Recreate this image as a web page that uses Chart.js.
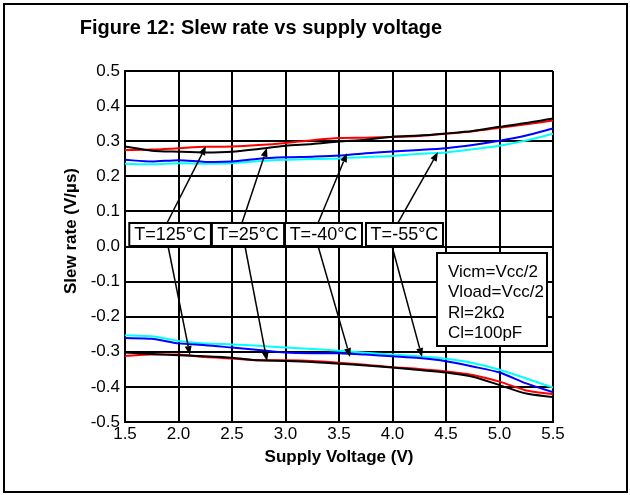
<!DOCTYPE html>
<html><head><meta charset="utf-8">
<script src="https://cdn.jsdelivr.net/npm/chart.js@4/dist/chart.umd.min.js"></script>
<style>html,body{margin:0;padding:0;background:#fff;}canvas{display:block;}</style>
</head><body>
<canvas id="c" width="630" height="495"></canvas>
<script>
// ---- data ----
const voltage = [1.5,1.75,2.0,2.25,2.5,2.75,3.0,3.25,3.5,3.75,4.0,4.25,4.5,4.75,5.0,5.25,5.5];
const rise125 = [0.285,0.273,0.270,0.268,0.270,0.278,0.287,0.292,0.299,0.304,0.313,0.316,0.322,0.329,0.341,0.352,0.365];
const rise25  = [0.275,0.276,0.280,0.284,0.285,0.289,0.295,0.303,0.309,0.310,0.312,0.315,0.321,0.328,0.338,0.348,0.359];
const riseM40 = [0.247,0.242,0.246,0.241,0.242,0.250,0.254,0.256,0.259,0.266,0.271,0.275,0.280,0.289,0.301,0.316,0.336];
const riseM55 = [0.236,0.234,0.237,0.236,0.237,0.243,0.247,0.249,0.251,0.255,0.258,0.264,0.268,0.277,0.287,0.302,0.321];
const fall125 = [-0.302,-0.306,-0.310,-0.313,-0.317,-0.324,-0.326,-0.329,-0.334,-0.339,-0.345,-0.352,-0.359,-0.371,-0.395,-0.419,-0.429];
const fall25  = [-0.312,-0.308,-0.308,-0.315,-0.319,-0.324,-0.324,-0.326,-0.331,-0.337,-0.344,-0.349,-0.356,-0.366,-0.385,-0.410,-0.421];
const fallM40 = [-0.261,-0.263,-0.276,-0.281,-0.288,-0.295,-0.302,-0.304,-0.304,-0.308,-0.313,-0.318,-0.327,-0.342,-0.359,-0.390,-0.415];
const fallM55 = [-0.253,-0.256,-0.269,-0.276,-0.279,-0.283,-0.288,-0.292,-0.297,-0.303,-0.308,-0.313,-0.320,-0.332,-0.351,-0.376,-0.402];
const xTicks = [1.5,2.0,2.5,3.0,3.5,4.0,4.5,5.0,5.5];
const xTickLabels = ['1.5','2.0','2.5','3.0','3.5','4.0','4.5','5.0','5.5'];
const yTicks = [-0.5,-0.4,-0.3,-0.2,-0.1,0,0.1,0.2,0.3,0.4,0.5];
const yTickLabels = ['-0.5','-0.4','-0.3','-0.2','-0.1','0.0','0.1','0.2','0.3','0.4','0.5'];
const tempLabels = ['T=125°C','T=25°C','T=-40°C','T=-55°C'];
const condLines = ['Vicm=Vcc/2','Vload=Vcc/2','Rl=2kΩ','Cl=100pF'];
const titleText = 'Figure 12: Slew rate vs supply voltage';
const xTitle = 'Supply Voltage (V)';
const yTitle = 'Slew rate (V/µs)';

// ---- annotation placement (data coordinates) ----
const tempBoxX = [[1.54,2.303],[2.312,2.987],[2.995,3.715],[3.752,4.472]];
const tempBoxY = [0.0014,0.067];
const arrowsUp = [[1.893,0.067,2.257,0.286],[2.593,0.067,2.827,0.281],[3.304,0.067,3.575,0.266],[4.051,0.067,4.425,0.269]];
const arrowsDown = [[1.902,0.0014,2.107,-0.309],[2.621,0.0014,2.827,-0.326],[3.304,0.0014,3.603,-0.315],[3.995,0.0014,4.276,-0.315]];
const condBox = {x0:4.416,x1:5.444,y0:-0.0185,y1:-0.2835,textX:4.519,lineY:[-0.0726,-0.1311,-0.1895,-0.2479]};

const FONT = '"Liberation Sans", Arial, sans-serif';
const pts = arr => arr.map((v,i)=>({x:voltage[i],y:v}));
const series = [
  [rise125,'#000000'],[rise25,'#ff0000'],[riseM40,'#0000ff'],[riseM55,'#00ffff'],
  [fall125,'#000000'],[fall25,'#ff0000'],[fallM40,'#0000ff'],[fallM55,'#00ffff']
];

function arrow(ctx,x0,y0,x1,y1){
  const a = Math.atan2(y1-y0,x1-x0), L=9, W=3.5;
  const bx = x1-L*Math.cos(a), by = y1-L*Math.sin(a);
  ctx.beginPath(); ctx.moveTo(x0,y0); ctx.lineTo(bx,by); ctx.stroke();
  ctx.beginPath(); ctx.moveTo(x1,y1);
  ctx.lineTo(bx+W*Math.sin(a), by-W*Math.cos(a));
  ctx.lineTo(bx-W*Math.sin(a), by+W*Math.cos(a));
  ctx.closePath(); ctx.fill();
}

const deco = {
  id:'deco',
  afterDatasetsDraw(chart){
    const {ctx, scales:{x,y}} = chart;
    const X=v=>x.getPixelForValue(v), Y=v=>y.getPixelForValue(v);
    ctx.save();
    ctx.strokeStyle='#000'; ctx.fillStyle='#000'; ctx.lineWidth=1.5;
    arrowsUp.concat(arrowsDown).forEach(a=>arrow(ctx,X(a[0]),Y(a[1]),X(a[2]),Y(a[3])));
    // temperature boxes
    ctx.font='18px '+FONT; ctx.textAlign='center'; ctx.textBaseline='middle';
    tempLabels.forEach((t,i)=>{
      const l=X(tempBoxX[i][0]), r=X(tempBoxX[i][1]), b=Y(tempBoxY[0]), tp=Y(tempBoxY[1]);
      ctx.fillStyle='#fff'; ctx.fillRect(l,tp,r-l,b-tp);
      ctx.lineWidth=2; ctx.strokeStyle='#000'; ctx.strokeRect(l,tp,r-l,b-tp);
      ctx.fillStyle='#000'; ctx.fillText(t,(l+r)/2,(tp+b)/2+0.5);
    });
    // conditions box
    const cl=X(condBox.x0), cr=X(condBox.x1), ct=Y(condBox.y0), cb=Y(condBox.y1);
    ctx.fillStyle='#fff'; ctx.fillRect(cl,ct,cr-cl,cb-ct);
    ctx.lineWidth=2; ctx.strokeRect(cl,ct,cr-cl,cb-ct);
    ctx.fillStyle='#000'; ctx.font='17px '+FONT; ctx.textAlign='left';
    condLines.forEach((s,i)=>ctx.fillText(s,X(condBox.textX),Y(condBox.lineY[i])));
    ctx.restore();
  },
  afterDraw(chart){
    const {ctx, chartArea:ca} = chart;
    ctx.save();
    ctx.strokeStyle='#000'; ctx.lineWidth=2;
    ctx.strokeRect(4,4,623,488);
    ctx.fillStyle='#000';
    ctx.font='bold 20px '+FONT; ctx.textAlign='center'; ctx.textBaseline='middle';
    ctx.fillText(titleText,261,28);
    ctx.font='bold 17px '+FONT;
    ctx.fillText(xTitle,(ca.left+ca.right)/2,457);
    ctx.translate(71.5,231); ctx.rotate(-Math.PI/2);
    ctx.fillText(yTitle,0,0);
    ctx.restore();
  }
};

new Chart(document.getElementById('c'),{
  type:'line',
  data:{datasets:series.map(s=>({data:pts(s[0]),borderColor:s[1],borderWidth:2,pointRadius:0,tension:0.25,fill:false}))},
  options:{
    responsive:false, animation:false, devicePixelRatio:1,
    layout:{padding:{top:71,right:77,bottom:0,left:0}},
    plugins:{legend:{display:false},tooltip:{enabled:false},title:{display:false}},
    scales:{
      x:{type:'linear',min:1.5,max:5.5,
        afterBuildTicks:ax=>{ax.ticks=xTicks.map(v=>({value:v}));},
        afterFit:ax=>{ax.height=73;},
        ticks:{callback:(v,i)=>xTickLabels[i],color:'#000',padding:2,maxRotation:0,font:{family:FONT,size:17}},
        grid:{color:'#000',lineWidth:2,drawTicks:false},
        border:{color:'#000',width:2}},
      y:{type:'linear',min:-0.5,max:0.5,
        afterBuildTicks:ax=>{ax.ticks=yTicks.map(v=>({value:v}));},
        afterFit:ax=>{ax.width=125;},
        ticks:{callback:(v,i)=>yTickLabels[i],color:'#000',padding:5,font:{family:FONT,size:17}},
        grid:{color:'#000',lineWidth:2,drawTicks:false},
        border:{color:'#000',width:2}}
    }
  },
  plugins:[deco]
});
</script>
</body></html>
